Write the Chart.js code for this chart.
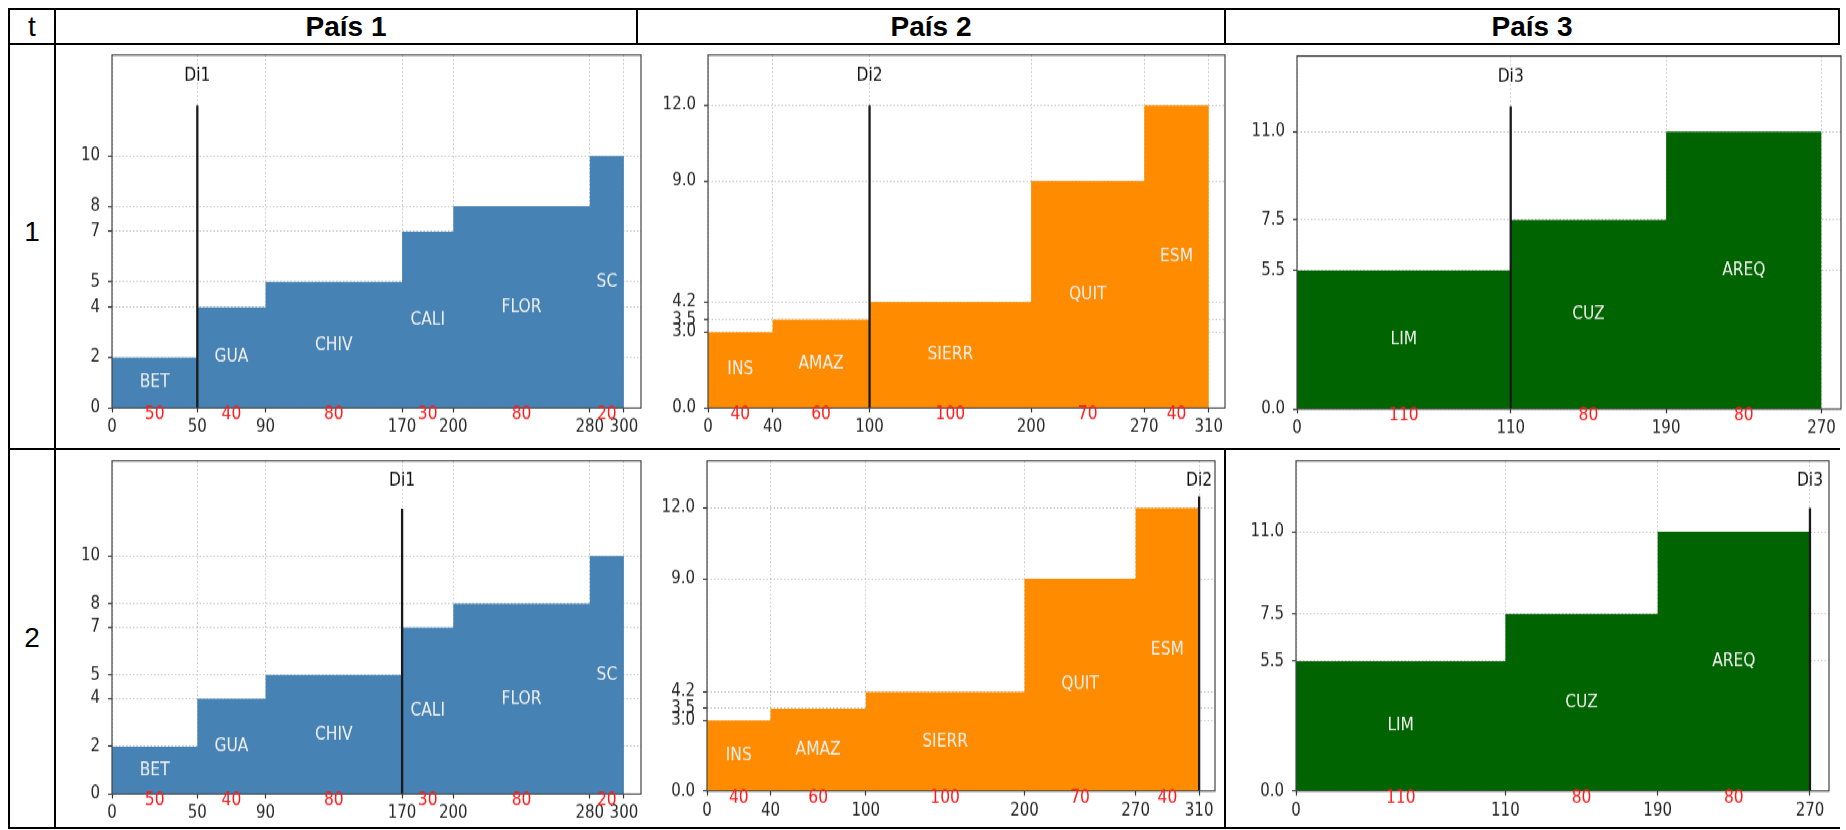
<!DOCTYPE html>
<html>
<head>
<meta charset="utf-8">
<script src="https://cdn.jsdelivr.net/npm/chart.js@4.4.1/dist/chart.umd.min.js"></script>
<style>
  body { margin: 0; background: #fff; width: 1846px; height: 830px; overflow: hidden; position: relative; font-family: "Liberation Sans", Arial, sans-serif; }
  .ln { position: absolute; background: #000; }
  .txt { position: absolute; text-align: center; font-size: 28px; height: 40px; line-height: 40px; color: #000; }
  .caja { position: absolute; transform-origin: 0 0; background: #fff; }
  .caja canvas { display: block; }
</style>
</head>
<body>
<script>
// cabeceras de la tabla
const paises = ["País 1", "País 2", "País 3"];
const periodos = ["1", "2"];

// País 1
const regiones1 = ["BET", "GUA", "CHIV", "CALI", "FLOR", "SC"];
const anchos1 = [50, 40, 80, 30, 80, 20];
const alturas1 = [2, 4, 5, 7, 8, 10];
const xTicks1 = [0, 50, 90, 170, 200, 280, 300];
const yTicks1 = [0, 2, 4, 5, 7, 8, 10];
const di1 = [50, 170];
const diTope1 = [12, 12];

// País 2
const regiones2 = ["INS", "AMAZ", "SIERR", "QUIT", "ESM"];
const anchos2 = [40, 60, 100, 70, 40];
const alturas2 = [3.0, 3.5, 4.2, 9.0, 12.0];
const xTicks2 = [0, 40, 100, 200, 270, 310];
const yTicks2 = [0, 3.0, 3.5, 4.2, 9.0, 12.0];
const di2 = [100, 310];
const diTope2 = [12, 12.5];

// País 3
const regiones3 = ["LIM", "CUZ", "AREQ"];
const anchos3 = [110, 80, 80];
const alturas3 = [5.5, 7.5, 11.0];
const xTicks3 = [0, 110, 190, 270];
const yTicks3 = [0, 5.5, 7.5, 11.0];
const di3 = [110, 270];
const diTope3 = [12, 12];

const colores = ["#4682b4", "#ff8c00", "#006400"];
const Y_MAX = 14;
const Y_ETIQUETA_DI = 13.15;

const datosPais = [
  { nombres: regiones1, anchos: anchos1, alturas: alturas1, xt: xTicks1, yt: yTicks1, di: di1, tope: diTope1, dec: 0, rotulo: "Di1" },
  { nombres: regiones2, anchos: anchos2, alturas: alturas2, xt: xTicks2, yt: yTicks2, di: di2, tope: diTope2, dec: 1, rotulo: "Di2" },
  { nombres: regiones3, anchos: anchos3, alturas: alturas3, xt: xTicks3, yt: yTicks3, di: di3, tope: diTope3, dec: 1, rotulo: "Di3" },
];

// ---- tabla ----
function linea(x, y, w, h) {
  const d = document.createElement("div");
  d.className = "ln";
  Object.assign(d.style, { left: x + "px", top: y + "px", width: w + "px", height: h + "px" });
  document.body.appendChild(d);
}
[8, 43, 448, 827].forEach(y => linea(8, y, 1832, 2));
[8, 54, 636, 1224, 1838].forEach(x => linea(x, 8, 2, 821));

function texto(t, cx, cy, w, bold) {
  const d = document.createElement("div");
  d.className = "txt";
  d.textContent = t;
  Object.assign(d.style, { left: (cx - w / 2) + "px", top: (cy - 20) + "px", width: w + "px", fontWeight: bold ? "bold" : "normal" });
  document.body.appendChild(d);
}
texto("t", 32, 26.5, 40, false);
const centrosCol = [346, 931, 1532];
paises.forEach((p, i) => texto(p, centrosCol[i], 26.5, 300, true));
texto(periodos[0], 32, 232, 40, false);
texto(periodos[1], 32, 637.5, 40, false);

// ---- graficos ----
// la imagen original esta algo estirada en vertical
const SY = 1.15;
const marcos = [
  [
    { x: 56, y: 45, w: 586, h: 403, l: 112, t: 55, r: 641, b: 408 },
    { x: 642, y: 45, w: 586, h: 403, l: 708, t: 55, r: 1225, b: 408 },
    { x: 1228, y: 45, w: 615, h: 403, l: 1297, t: 56, r: 1841, b: 409 },
  ],
  [
    { x: 56, y: 450, w: 586, h: 377, l: 112, t: 461, r: 641, b: 794 },
    { x: 642, y: 450, w: 581, h: 377, l: 707, t: 461, r: 1215, b: 791 },
    { x: 1227, y: 450, w: 614, h: 377, l: 1296, t: 461, r: 1829, b: 791 },
  ],
];

Chart.defaults.font.family = "'DejaVu Sans', sans-serif";

function pluginEtiquetas(p, fila) {
  return {
    id: "etiquetas",
    afterDraw(chart) {
      const { ctx, chartArea: a } = chart;
      const x = chart.scales.x, y = chart.scales.y;
      ctx.save();
      ctx.strokeStyle = "#444";
      ctx.lineWidth = 1.2;
      ctx.strokeRect(a.left, a.top, a.right - a.left, a.bottom - a.top);
      ctx.textAlign = "center";
      ctx.textBaseline = "middle";
      ctx.font = "15.5px 'DejaVu Sans'";
      let ini = 0;
      p.nombres.forEach((n, i) => {
        const cx = x.getPixelForValue(ini + p.anchos[i] / 2);
        ctx.fillStyle = "#f0f0f0";
        ctx.fillText(n, cx, y.getPixelForValue(p.alturas[i] / 2));
        ctx.fillStyle = "#ff1a1a";
        ctx.fillText(String(p.anchos[i]), cx, a.bottom + 6);
        ini += p.anchos[i];
      });
      ctx.fillStyle = "#111";
      ctx.fillText(p.rotulo, x.getPixelForValue(p.di[fila]), y.getPixelForValue(Y_ETIQUETA_DI));
      ctx.restore();
    },
  };
}

function crearGrafico(fila, col) {
  const c = marcos[fila][col];
  const p = datosPais[col];
  const hC = Math.round(c.h / SY);
  const k = c.h / hC;

  const wrap = document.createElement("div");
  wrap.className = "caja";
  Object.assign(wrap.style, {
    left: c.x + "px", top: c.y + "px", width: c.w + "px", height: hC + "px",
    transform: `scaleY(${k})`,
  });
  const cv = document.createElement("canvas");
  cv.width = c.w;
  cv.height = hC;
  wrap.appendChild(cv);
  document.body.appendChild(wrap);

  const anchoY = c.l - c.x;
  const padTop = (c.t - c.y) / k;
  const padRight = c.x + c.w - c.r;
  const altoX = (c.y + c.h - c.b) / k;

  // escalones: cada region empieza donde acaba la anterior
  const puntos = [];
  let acc = 0;
  p.anchos.forEach((w, i) => {
    puntos.push({ x: acc, y: p.alturas[i] });
    acc += w;
  });
  const total = acc;
  puntos.push({ x: total, y: p.alturas[p.alturas.length - 1] });

  const grid = {
    color: "rgba(150,150,150,0.55)",
    lineWidth: 1,
    tickColor: "#333",
    tickLength: 4,
    tickWidth: 1.2,
  };
  const borde = { display: false, dash: [1.5, 2] };
  const fuente = { family: "'DejaVu Sans'", size: 15 };

  new Chart(cv, {
    type: "line",
    data: {
      datasets: [
        {
          data: [{ x: p.di[fila], y: 0 }, { x: p.di[fila], y: p.tope[fila] }],
          borderColor: "#1a1a1a",
          borderWidth: 2.3,
          pointRadius: 0,
          fill: false,
        },
        {
          data: puntos,
          stepped: "before",
          fill: "origin",
          backgroundColor: colores[col],
          borderColor: "rgba(0,0,0,0)",
          borderWidth: 1,
          pointRadius: 0,
        },
      ],
    },
    options: {
      responsive: false,
      animation: false,
      devicePixelRatio: 1,
      events: [],
      layout: { padding: { left: 0, top: padTop, right: padRight, bottom: 0 } },
      plugins: { legend: { display: false }, tooltip: { enabled: false } },
      scales: {
        x: {
          type: "linear",
          min: 0,
          max: total + 10,
          z: 1,
          grid: grid,
          border: borde,
          afterBuildTicks: (s) => { s.ticks = p.xt.map((v) => ({ value: v })); },
          afterFit: (s) => { s.height = altoX; s.paddingLeft = 0; s.paddingRight = 0; },
          ticks: {
            autoSkip: false, maxRotation: 0, minRotation: 0, padding: 4,
            color: "#262626", font: fuente,
            callback: (v) => String(v),
          },
        },
        y: {
          type: "linear",
          min: 0,
          max: Y_MAX,
          z: 1,
          grid: grid,
          border: borde,
          afterBuildTicks: (s) => { s.ticks = p.yt.map((v) => ({ value: v })); },
          afterFit: (s) => { s.width = anchoY; s.paddingTop = 0; s.paddingBottom = 0; },
          ticks: {
            autoSkip: false, padding: 8,
            color: "#262626", font: fuente,
            callback: (v) => Number(v).toFixed(p.dec),
          },
        },
      },
    },
    plugins: [pluginEtiquetas(p, fila)],
  });
}

for (let f = 0; f < 2; f++) {
  for (let c = 0; c < 3; c++) crearGrafico(f, c);
}
</script>
</body>
</html>
